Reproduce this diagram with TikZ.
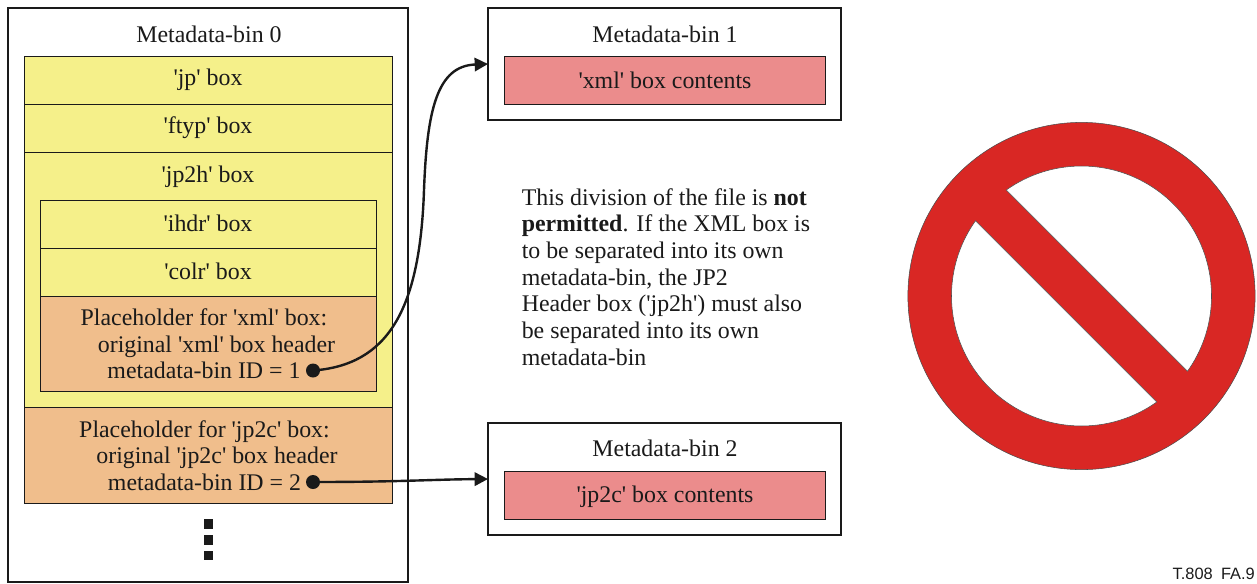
\documentclass[tikz,border=0pt]{standalone}
\usepackage{fontspec}
\setmainfont{Liberation Serif}[Ligatures=TeXOff]
\newfontfamily\labelsans{Liberation Sans}
\usetikzlibrary{arrows.meta}
\definecolor{yel}{HTML}{F5F08A}
\definecolor{ora}{HTML}{F0BE8C}
\definecolor{sal}{HTML}{EB8C8C}
\definecolor{stopred}{HTML}{D92724}
\definecolor{ink}{HTML}{1A1A1A}
\tikzset{
  binbox/.style={draw=ink,line width=1.6pt,fill=white},
  rowy/.style={draw=ink,line width=0.75pt,fill=yel},
  rowo/.style={draw=ink,line width=0.75pt,fill=ora},
  rows/.style={draw=ink,line width=0.75pt,fill=sal},
  txt/.style={font=\fontsize{17.9pt}{20pt}\selectfont,text=ink,inner sep=0pt,anchor=base},
  blob/.style={circle,fill=ink,minimum size=10.5pt,inner sep=0pt},
  sq/.style={fill=ink,minimum size=7.4pt,inner sep=0pt},
  conn/.style={draw=ink,line width=1.8pt,-{Triangle[length=10pt,width=10pt]}},
  sign/.style={draw=black!70,line width=0.4pt}
}
\newcommand{\pbox}[6]{%
  \pgfmathsetlengthmacro\bw{(#4-#2)*0.75pt}%
  \pgfmathsetlengthmacro\bh{(#5-#3)*0.75pt}%
  \node[#6,inner sep=0pt,outer sep=0pt,minimum width=\bw,minimum height=\bh] (#1) at ({(#2+#4)/2},{(#3+#5)/2}) {};}
\begin{document}
\begin{tikzpicture}[x=0.75pt,y=-0.75pt]
\useasboundingbox (0,0) rectangle (1257,583);
% bins
\pbox{bin0}{8}{8}{408}{582}{binbox}
\pbox{bin1}{488}{8}{841}{120}{binbox}
\pbox{bin2}{488}{423}{841}{535}{binbox}
% rows of bin 0
\pbox{rjp}{24}{56}{392}{104}{rowy}
\pbox{rftyp}{24}{104}{392}{152}{rowy}
\pbox{rjph}{24}{152}{392}{407}{rowy}
\pbox{rihdr}{40}{200}{376}{248}{rowy}
\pbox{rcolr}{40}{248}{376}{296}{rowy}
\pbox{rxml}{40}{296}{376}{391}{rowo}
\pbox{rjpc}{24}{407}{392}{503}{rowo}
\pbox{cxml}{504}{56}{825}{104}{rows}
\pbox{cjpc}{504}{471}{825}{519}{rows}
% labels
\node[txt] (t0) at (209,42.5) {Metadata-bin 0};
\node[txt] (t1) at (208,85) {'jp' box};
\node[txt] (t2) at (208,133.5) {'ftyp' box};
\node[txt] (t3) at (208,182.5) {'jp2h' box};
\node[txt] (t4) at (208,231.5) {'ihdr' box};
\node[txt] (t5) at (208,279.5) {'colr' box};
\node[txt] (t6) at (204,325) {Placeholder for 'xml' box:};
\node[txt] (t7) at (216.5,352) {original 'xml' box header};
\node[txt] (t8) at (204,378) {metadata-bin ID = 1};
\node[txt] (t9) at (204.5,437) {Placeholder for 'jp2c' box:};
\node[txt] (t10) at (217,463) {original 'jp2c' box header};
\node[txt] (t11) at (204.5,490) {metadata-bin ID = 2};
\node[txt] (t12) at (665,42.5) {Metadata-bin 1};
\node[txt] (t13) at (665,88) {'xml' box contents};
\node[txt] (t14) at (665,456) {Metadata-bin 2};
\node[txt] (t15) at (665,502) {'jp2c' box contents};
\node[txt,anchor=north west,align=left] (note) at (521.5,188) {This division of the file is \textbf{not}\\
\textbf{permitted}. If the XML box is\\
to be separated into its own\\
metadata-bin, the JP2\\
Header box ('jp2h') must also\\
be separated into its own\\
metadata-bin};
% ellipsis
\node[sq] (s1) at (208.5,524) {};
\node[sq] (s2) at (208.5,540) {};
\node[sq] (s3) at (208.5,555.5) {};
% connectors
\node[blob] (d1) at (313,370.5) {};
\node[blob] (d2) at (313,482) {};
\coordinate (via) at (424,190);
\draw[conn] (d1.center) .. controls (388,365) and (420,310) .. (via) .. controls (427,110) and (437,66) .. (bin1.west);
\draw[conn] (d2.center) .. controls (400,482) and (430,479.5) .. (bin2.west);
% prohibition sign
\fill[stopred] (1081.5,296) circle[radius=130.2pt];
\draw[sign] (1081.5,296) circle[radius=130.2pt];
\draw[sign,fill=white] (1081.5,296) ++(-35.4:97.5pt) arc[start angle=-35.4,end angle=125.4,radius=97.5pt] -- cycle;
\draw[sign,fill=white] (1081.5,296) ++(144.6:97.5pt) arc[start angle=144.6,end angle=305.4,radius=97.5pt] -- cycle;
\node[font=\labelsans\fontsize{12.3pt}{14pt}\selectfont,text=ink,inner sep=0pt,anchor=base east] (tag) at (1255,579) {T.808\hspace{0.5em}FA.9};
\end{tikzpicture}
\end{document}
